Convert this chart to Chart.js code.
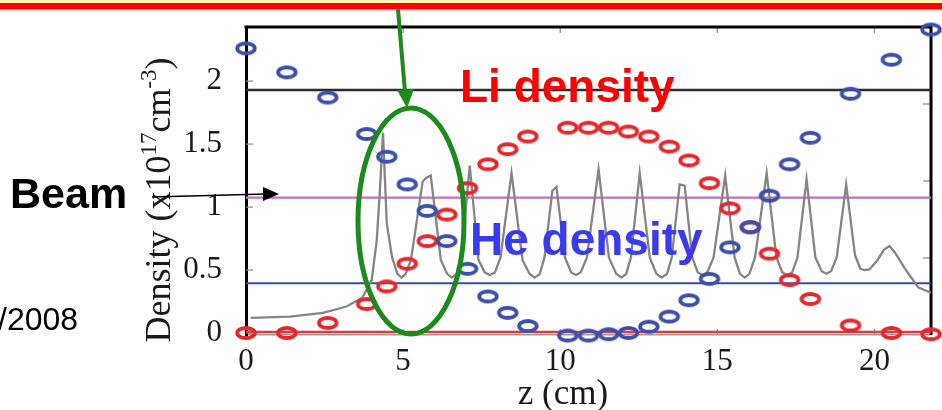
<!DOCTYPE html>
<html>
<head>
<meta charset="utf-8">
<script src="https://cdn.jsdelivr.net/npm/chart.js@4.4.0/dist/chart.umd.min.js"></script>
<style>
  html, body { margin: 0; padding: 0; background: #fff; overflow: hidden; }
  #wrap { position: relative; width: 942px; height: 410px; }
</style>
</head>
<body>
<div id="wrap"><canvas id="densityChart" width="942" height="410"></canvas></div>
<script>
// ===== Data =====

// z positions (cm) of the sampled Li / He points
const zPoints = [0, 1.3, 2.6, 3.84, 4.48, 5.13, 5.77, 6.39, 7.05, 7.7, 8.33, 8.97,
  10.24, 10.9, 11.54, 12.17, 12.82, 13.47, 14.1, 14.75, 15.4, 16.05, 16.66,
  17.3, 17.96, 19.24, 20.54, 21.8];

// Li density (x1e17 cm^-3)
const liDensity = [0, 0, 0.08, 0.23, 0.37, 0.55, 0.73, 0.94, 1.15, 1.34, 1.46, 1.56,
  1.63, 1.63, 1.63, 1.60, 1.56, 1.48, 1.37, 1.19, 0.99, 0.84, 0.63,
  0.42, 0.27, 0.06, 0, -0.01];

// He density (x1e17 cm^-3)
const heDensity = [2.26, 2.07, 1.87, 1.58, 1.40, 1.18, 0.97, 0.73, 0.51, 0.29, 0.16, 0.055,
  -0.02, -0.02, -0.01, 0.0, 0.05, 0.13, 0.26, 0.43, 0.68, 0.84, 1.09,
  1.34, 1.55, 1.90, 2.17, 2.41];

// beam envelope (gray curve)
const beamZ = [0.15, 1.4, 2.45, 3.2, 3.7, 4.0, 4.16, 4.26, 4.36,
  4.48, 4.65, 4.82, 4.95, 5.08, 5.25,
  5.62, 5.72, 5.88, 6.2, 6.4, 6.55, 6.7, 6.85,
  7.12, 7.4, 7.6, 7.76, 7.92, 8.1,
  8.45, 8.8, 9.02, 9.19, 9.35, 9.5,
  9.75, 9.88, 10.15, 10.35, 10.5, 10.65, 10.85,
  11.22, 11.55, 11.78, 11.95, 12.1, 12.25,
  12.53, 12.85, 13.06, 13.23, 13.4, 13.55,
  13.8, 13.96, 14.2, 14.38, 14.53, 14.68, 14.88,
  15.25, 15.55, 15.72, 15.87, 16.02, 16.2,
  16.57, 16.88, 17.07, 17.23, 17.38, 17.55,
  17.84, 18.12, 18.32, 18.47, 18.62, 18.8,
  19.1, 19.38, 19.55, 19.68, 19.84, 20.1, 20.3,
  20.48, 20.65, 21.0, 21.4, 21.8];
const beamDensity = [0.12, 0.13, 0.16, 0.21, 0.28, 0.42, 0.73, 1.13, 1.59,
  0.87, 0.6, 0.47, 0.44, 0.47, 0.58,
  1.2, 1.23, 1.25, 0.58, 0.47, 0.44, 0.47, 0.58,
  1.33, 0.58, 0.48, 0.46, 0.48, 0.6,
  1.27, 0.58, 0.47, 0.44, 0.47, 0.6,
  1.13, 1.16, 0.6, 0.48, 0.46, 0.48, 0.6,
  1.30, 0.6, 0.47, 0.44, 0.47, 0.6,
  1.27, 0.6, 0.47, 0.44, 0.47, 0.6,
  1.18, 1.17, 0.6, 0.48, 0.46, 0.48, 0.6,
  1.25, 0.6, 0.47, 0.44, 0.47, 0.6,
  1.27, 0.6, 0.48, 0.46, 0.48, 0.6,
  1.22, 0.6, 0.49, 0.47, 0.49, 0.6,
  1.18, 0.62, 0.51, 0.50, 0.505, 0.58, 0.66,
  0.69, 0.64, 0.50, 0.36, 0.32];

// horizontal reference levels
const levelValues = [1.93, 1.075, 0.395, 0.008];

// axes
const xRange = [0, 21.8];
const yRange = [-0.016, 2.43];
const xTicks = [0, 5, 10, 15, 20];
const yTicks = [0, 0.5, 1, 1.5, 2];
const rightTicks = [0.25, 0.5, 0.75]; // fractions of the frame height (right-hand scale)

// ===== Styles =====
const serif = "'Liberation Serif', 'Times New Roman', serif";
const sans = "'Liberation Sans', Arial, sans-serif";
const levelColors = ["#2b2b2b", "#c66ec6", "#3a4aa6", "#e23a3a"];
const levelWidths = [2.5, 2.2, 2, 2.5];

function ringMarker(color) {
  const c = document.createElement("canvas");
  c.width = 26; c.height = 18;
  const g = c.getContext("2d");
  g.strokeStyle = color;
  g.lineWidth = 3.8;
  g.beginPath();
  g.ellipse(13, 9, 8.8, 5.0, 0, 0, Math.PI * 2);
  g.stroke();
  return c;
}

const toPts = (xs, ys) => xs.map((x, i) => ({ x: x, y: ys[i] }));

const levelSets = levelValues.map((v, i) => ({
  data: [{ x: xRange[0], y: v }, { x: xRange[1], y: v }],
  showLine: true,
  borderColor: levelColors[i],
  borderWidth: levelWidths[i],
  pointRadius: 0,
  order: 3
}));

// fixed axis boxes, no extra label padding
const fixBox = (w, h) => s => {
  if (w !== null) s.width = w;
  if (h !== null) s.height = h;
  s.paddingTop = 0; s.paddingBottom = 0; s.paddingLeft = 0; s.paddingRight = 0;
};

// top/right frame and inward tick marks
const frame = {
  id: "frame",
  beforeDatasetsDraw(chart) {
    const { ctx, chartArea: a, scales } = chart;
    ctx.save();
    const seg = (x1, y1, x2, y2) => { ctx.beginPath(); ctx.moveTo(x1, y1); ctx.lineTo(x2, y2); ctx.stroke(); };
    ctx.strokeStyle = "#8a8a8a";
    ctx.lineWidth = 1.2;
    yTicks.forEach(v => { const p = scales.y.getPixelForValue(v); seg(a.left, p, a.left + 7, p); });
    xTicks.slice(1).forEach(v => {
      const p = scales.x.getPixelForValue(v);
      seg(p, a.bottom, p, a.bottom - 6);
      seg(p, a.top, p, a.top + 6);
    });
    rightTicks.forEach(f => { const p = a.bottom - f * (a.bottom - a.top); seg(a.right, p, a.right - 8, p); });
    ctx.strokeStyle = "#000";
    ctx.lineWidth = 3;
    ctx.beginPath();
    ctx.moveTo(a.left - 1.5, a.top);
    ctx.lineTo(a.right, a.top);
    ctx.lineTo(a.right, a.bottom);
    ctx.stroke();
    ctx.restore();
  }
};

// axis titles + slide annotations
const overlay = {
  id: "overlay",
  afterDraw(chart) {
    const ctx = chart.ctx;
    ctx.save();

    // y title with superscripts
    ctx.translate(170, 200);
    ctx.rotate(-Math.PI / 2);
    ctx.fillStyle = "#1a1a1a";
    ctx.textBaseline = "alphabetic";
    const big = "36px " + serif, small = "23px " + serif;
    const parts = [["Density (x10", big, 0], ["17", small, -14], ["cm", big, 0], ["-3", small, -14], [")", big, 0]];
    let total = 0;
    parts.forEach(p => { ctx.font = p[1]; total += ctx.measureText(p[0]).width; });
    let cx = -total / 2;
    parts.forEach(p => { ctx.font = p[1]; ctx.fillText(p[0], cx, p[2]); cx += ctx.measureText(p[0]).width; });
    ctx.setTransform(1, 0, 0, 1, 0, 0);

    // x title
    ctx.font = "35px " + serif;
    ctx.textAlign = "center";
    ctx.fillText("z (cm)", 563, 404);

    // slide title bar edge
    ctx.fillStyle = "#fbf3b4";
    ctx.fillRect(0, 0, 942, 3);
    ctx.fillStyle = "#ff0000";
    ctx.fillRect(0, 3, 942, 6);
    ctx.fillStyle = "#f6a0a0";
    ctx.fillRect(0, 9, 942, 1.5);

    // green arrow and ellipse
    ctx.strokeStyle = "#1c8a1c";
    ctx.fillStyle = "#1c8a1c";
    ctx.lineWidth = 4;
    ctx.beginPath(); ctx.moveTo(398, 9); ctx.lineTo(405, 92); ctx.stroke();
    ctx.beginPath(); ctx.moveTo(397, 90); ctx.lineTo(414, 89); ctx.lineTo(407, 108); ctx.closePath(); ctx.fill();
    ctx.lineWidth = 5;
    ctx.beginPath(); ctx.ellipse(411, 221, 53, 113, 0, 0, Math.PI * 2); ctx.stroke();

    // labels
    ctx.textAlign = "left";
    ctx.font = "bold 46px " + sans;
    ctx.fillStyle = "#ff0000";
    ctx.fillText("Li density", 460, 102);
    ctx.fillStyle = "#3a3af2";
    ctx.fillText("He density", 470, 255);
    ctx.fillStyle = "#000";
    ctx.font = "bold 43px " + sans;
    ctx.fillText("Beam", 10, 208);
    ctx.font = "32px " + sans;
    ctx.fillText("/2008", -2, 330);

    // beam arrow
    ctx.strokeStyle = "#000";
    ctx.lineWidth = 1.6;
    ctx.beginPath(); ctx.moveTo(152, 197); ctx.lineTo(266, 194); ctx.stroke();
    ctx.beginPath(); ctx.moveTo(263, 187); ctx.lineTo(279, 194); ctx.lineTo(263, 201); ctx.closePath(); ctx.fill();

    ctx.restore();
  }
};

new Chart(document.getElementById("densityChart"), {
  type: "scatter",
  data: {
    datasets: [
      {
        label: "He density",
        data: toPts(zPoints, heDensity),
        pointStyle: ringMarker("#3d4fa8"),
        order: 0,
        clip: false
      },
      {
        label: "Li density",
        data: toPts(zPoints, liDensity),
        pointStyle: ringMarker("#e8262c"),
        order: 1,
        clip: false
      },
      {
        label: "Beam",
        data: toPts(beamZ, beamDensity),
        showLine: true,
        borderColor: "#858585",
        borderWidth: 2.3,
        pointRadius: 0,
        tension: 0,
        order: 2
      },
      ...levelSets
    ]
  },
  options: {
    responsive: false,
    animation: false,
    layout: { padding: { top: 27, right: 11, left: 0, bottom: 0 } },
    plugins: { legend: { display: false }, tooltip: { enabled: false } },
    scales: {
      x: {
        type: "linear", position: "bottom", min: xRange[0], max: xRange[1],
        afterBuildTicks: s => { s.ticks = xTicks.map(v => ({ value: v })); },
        afterFit: fixBox(null, 75),
        grid: { drawOnChartArea: false, drawTicks: false },
        border: { color: "#9a9a9a", width: 1.5 },
        ticks: { font: { family: serif, size: 31 }, color: "#1a1a1a", padding: 8, maxRotation: 0,
          callback: v => String(v) }
      },
      y: {
        type: "linear", position: "left", min: yRange[0], max: yRange[1],
        afterBuildTicks: s => { s.ticks = yTicks.map(v => ({ value: v })); },
        afterFit: fixBox(246, null),
        grid: { drawOnChartArea: false, drawTicks: false },
        border: { color: "#000", width: 3 },
        ticks: { font: { family: serif, size: 31 }, color: "#1a1a1a", padding: 24,
          callback: v => String(v) }
      }
    }
  },
  plugins: [frame, overlay]
});
</script>
</body>
</html>
